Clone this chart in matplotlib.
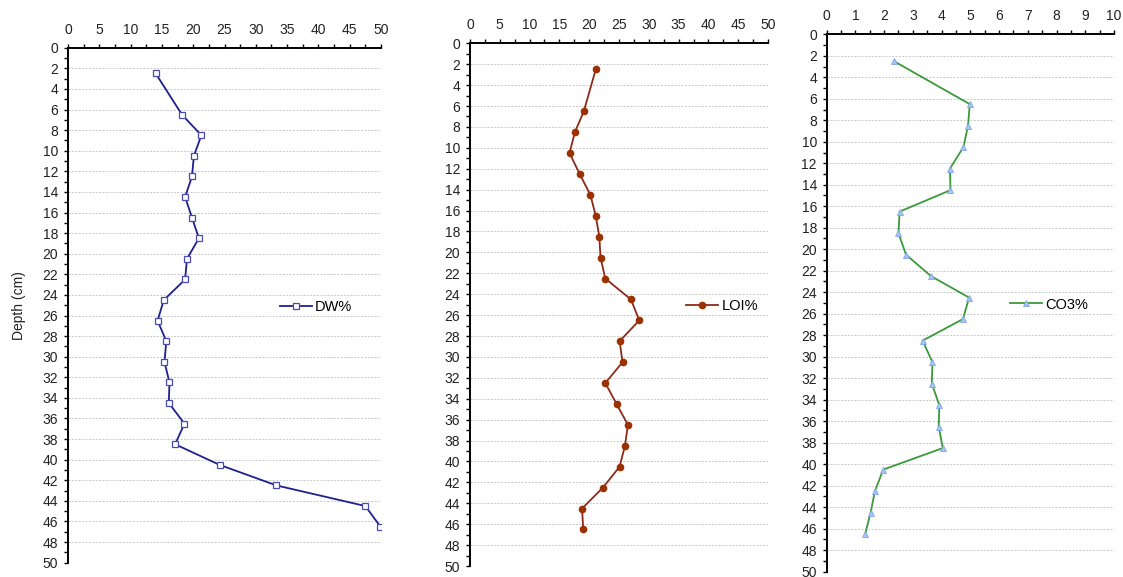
import numpy as np
import matplotlib
matplotlib.use("Agg")
import matplotlib.pyplot as plt
from matplotlib.ticker import MultipleLocator

plt.rcParams['font.family'] = ['Liberation Sans', 'DejaVu Sans']

# core sampled in 2 cm slices, mid-point depths
depth = [2.5, 6.5, 8.5, 10.5, 12.5, 14.5, 16.5, 18.5, 20.5, 22.5, 24.5,
         26.5, 28.5, 30.5, 32.5, 34.5, 36.5, 38.5, 40.5, 42.5, 44.5, 46.5]

dw = [14.0, 18.2, 21.3, 20.1, 19.8, 18.7, 19.8, 20.9, 19.0, 18.7, 15.3,
      14.3, 15.7, 15.4, 16.2, 16.1, 18.6, 17.1, 24.2, 33.3, 47.5, 49.9]

loi = [21.1, 19.1, 17.6, 16.7, 18.4, 20.2, 21.1, 21.7, 21.9, 22.7, 27.0,
       28.4, 25.1, 25.6, 22.7, 24.6, 26.5, 26.0, 25.1, 22.3, 18.8, 19.0]

co3 = [2.34, 4.98, 4.92, 4.76, 4.29, 4.31, 2.54, 2.50, 2.76, 3.63, 4.96,
       4.74, 3.34, 3.68, 3.66, 3.92, 3.90, 4.04, 1.97, 1.68, 1.53, 1.34]

fig = plt.figure(figsize=(11.23, 5.77), dpi=100)

panels = [
    # series, label, marker, xmax, xstep, legend x, rect
    (dw, 'DW%', 's', 50, 5, 0.907, [0.0606, 0.0248, 0.2787, 0.8925]),
    (loi, 'LOI%', 'o', 50, 5, 0.966, [0.4185, 0.0190, 0.2654, 0.9060]),
    (co3, 'CO3%', '^', 10, 1, 0.909, [0.7361, 0.0092, 0.2559, 0.9314]),
]

for vals, lab, mk, xmax, xstep, legx, rect in panels:
    ax = fig.add_axes(rect)
    if mk == 's':
        ax.plot(vals, depth, color='#1f1f8f', lw=1.3, marker=mk, ms=4,
                mfc='white', mec='#4a4ab0', mew=0.9, label=lab)
    elif mk == 'o':
        ax.plot(vals, depth, color='#8b2a1a', lw=1.3, marker=mk, ms=4.5,
                mfc='#9b3000', mec='#9b3000', label=lab)
    else:
        ax.plot(vals, depth, color='#3a9a3a', lw=1.3, marker=mk, ms=3.8,
                mfc='#a8c4f0', mec='#7fa6e8', mew=0.6, label=lab)

    ax.set_xlim(0, xmax)
    ax.set_ylim(50, 0)
    ax.xaxis.tick_top()
    ax.xaxis.set_major_locator(MultipleLocator(xstep))
    ax.xaxis.set_minor_locator(MultipleLocator(xstep / 2))
    ax.yaxis.set_major_locator(MultipleLocator(2))
    ax.yaxis.set_minor_locator(MultipleLocator(1))
    ax.tick_params(which='both', direction='out', length=3, width=1,
                   color='black', labelsize=10, labelcolor='#222222', pad=4)
    ax.tick_params(axis='x', which='major', pad=5)

    for s in ('right', 'bottom'):
        ax.spines[s].set_visible(False)
    for s in ('left', 'top'):
        ax.spines[s].set_linewidth(1.4)
    ax.grid(axis='y', which='major', color='#c8c8c8', ls=(0, (2, 1.5)), lw=0.7)
    ax.set_axisbelow(True)

    ax.legend(loc='center right', bbox_to_anchor=(legx, 0.497), frameon=False,
              fontsize=10.5, handlelength=2.2, handletextpad=0.2,
              borderaxespad=0, borderpad=0)

fig.axes[0].set_ylabel('Depth (cm)', fontsize=10, color='#222222', labelpad=12)

fig.savefig('out.png', dpi=100)
